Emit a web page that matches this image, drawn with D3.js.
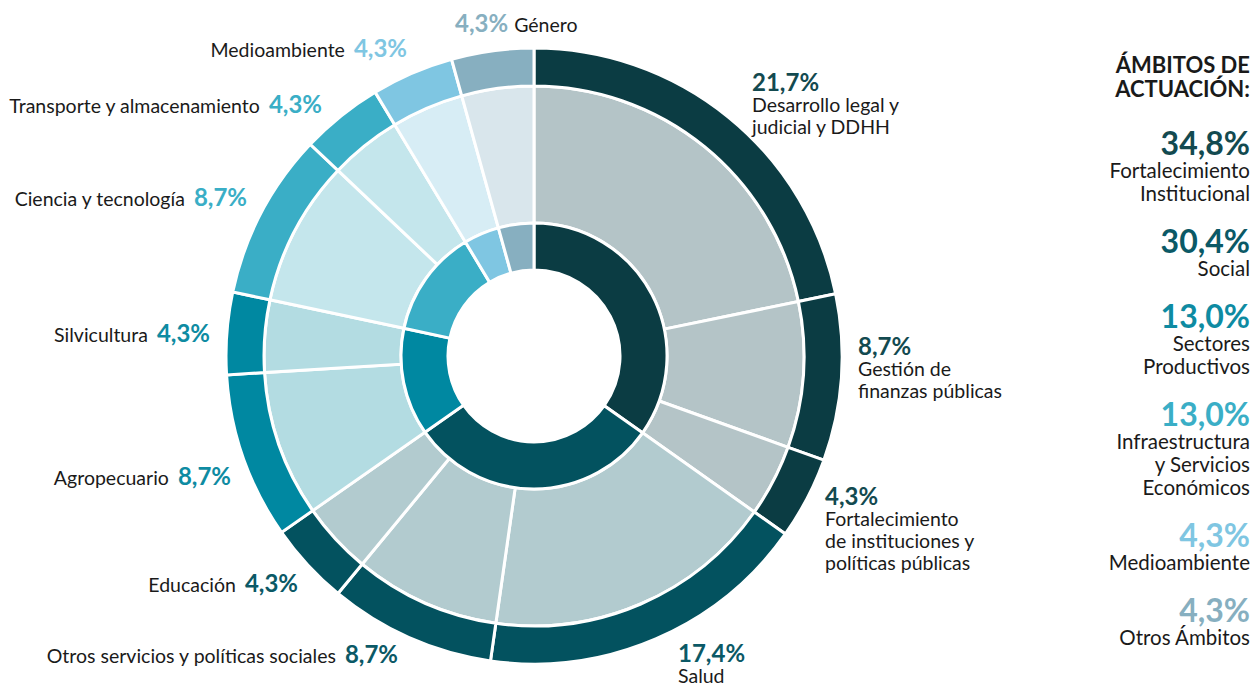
<!DOCTYPE html>
<html lang="es">
<head>
<meta charset="UTF-8">
<title>Ámbitos de actuación</title>
<script src="https://cdn.jsdelivr.net/npm/d3@7"></script>
<style>
    body { margin: 0; background: #fff; }
    svg text { font-family: Lato, "Open Sans", sans-serif; }
</style>
</head>
<body>
<div id="chart"></div>
<script>
    // -------- DATA ---------
    var groups = ["Fortalecimiento Institucional", "Social", "Sectores Productivos",
        "Infraestructura y Servicios Económicos", "Medioambiente", "Otros Ámbitos"];
    var groupValues = [34.8, 30.4, 13.0, 13.0, 4.3, 4.3];
    var groupLegendLines = [
        ["Fortalecimiento", "Institucional"],
        ["Social"],
        ["Sectores", "Productivos"],
        ["Infraestructura", "y Servicios", "Económicos"],
        ["Medioambiente"],
        ["Otros Ámbitos"]
    ];
    var subsectors = ["Desarrollo legal y judicial y DDHH", "Gestión de finanzas públicas",
        "Fortalecimiento de instituciones y políticas públicas", "Salud",
        "Otros servicios y políticas sociales", "Educación", "Agropecuario", "Silvicultura",
        "Ciencia y tecnología", "Transporte y almacenamiento", "Medioambiente", "Género"];
    var subsectorValues = [21.7, 8.7, 4.3, 17.4, 8.7, 4.3, 8.7, 4.3, 8.7, 4.3, 4.3, 4.3];
    var subsectorGroup = [0, 0, 0, 1, 1, 1, 2, 2, 3, 3, 4, 5];

    // -------- LAYOUT / STYLE ---------
    var W = 1255, H = 686;
    var cx = 534, cy = 356;
    var rHole = 86, rInner = 133, rMiddle = 270, rOuter = 308;
    var strongColors = ["#0b3c43", "#03525f", "#0088a1", "#3aaec6", "#7fc6e2", "#87afc0"];
    var paleColors = ["#b4c4c7", "#b2cbcf", "#b3dce2", "#c4e6ec", "#d7edf5", "#d9e6ec"];
    var pctTextColors = ["#134a50", "#0b5966", "#0e8ba2", "#3aaec6", "#7fc6e2", "#87afc0"];
    var labelSize = "19.5px", pctSize = "24px";

    // label anchors for each subsector (annotation placement)
    var labelLayout = [
        {x: 752, y: 91, side: "right", lines: ["Desarrollo legal y", "judicial y DDHH"]},
        {x: 858, y: 355, side: "right", lines: ["Gestión de", "finanzas públicas"]},
        {x: 825, y: 505, side: "right", lines: ["Fortalecimiento", "de instituciones y", "políticas públicas"]},
        {x: 678, y: 662, side: "right", lines: ["Salud"]},
        {x: 398, y: 663, side: "left"},
        {x: 298, y: 592, side: "left"},
        {x: 231, y: 485, side: "left"},
        {x: 210, y: 342, side: "left"},
        {x: 247, y: 206, side: "left"},
        {x: 322, y: 113, side: "left"},
        {x: 407, y: 57, side: "left"},
        {x: 455, y: 32, side: "top"}
    ];

    var fmt = function (v) { return d3.format(".1f")(v).replace(".", ",") + "%"; };

    var svg = d3.select("#chart")
        .append("svg")
        .attr("width", W)
        .attr("height", H);

    var g = svg.append("g")
        .attr("transform", "translate(" + cx + "," + cy + ")");

    // -------- RINGS ---------
    var pie = d3.pie().sort(null).value(function (d) { return d; });
    var leafArcs = pie(subsectorValues);

    // inner ring spans the same angles as its subsectors
    var innerArcs = groups.map(function (name, gi) {
        var own = leafArcs.filter(function (a, i) { return subsectorGroup[i] === gi; });
        return {
            startAngle: own[0].startAngle,
            endAngle: own[own.length - 1].endAngle,
            group: gi
        };
    });

    var arcInner = d3.arc().innerRadius(rHole).outerRadius(rInner);
    var arcMiddle = d3.arc().innerRadius(rInner).outerRadius(rMiddle);
    var arcOuter = d3.arc().innerRadius(rMiddle).outerRadius(rOuter);

    g.append("g").selectAll("path")
        .data(leafArcs)
        .enter()
        .append("path")
        .attr("d", arcMiddle)
        .attr("fill", function (d, i) { return paleColors[subsectorGroup[i]]; })
        .attr("stroke", "#fff")
        .attr("stroke-width", 3);

    g.append("g").selectAll("path")
        .data(leafArcs)
        .enter()
        .append("path")
        .attr("d", arcOuter)
        .attr("fill", function (d, i) { return strongColors[subsectorGroup[i]]; })
        .attr("stroke", "#fff")
        .attr("stroke-width", 3);

    g.append("g").selectAll("path")
        .data(innerArcs)
        .enter()
        .append("path")
        .attr("d", arcInner)
        .attr("fill", function (d) { return strongColors[d.group]; })
        .attr("stroke", "#fff")
        .attr("stroke-width", 3);

    // -------- SUBSECTOR LABELS ---------
    var labels = svg.append("g");
    subsectors.forEach(function (name, i) {
        var L = labelLayout[i];
        var col = pctTextColors[subsectorGroup[i]];
        if (L.side === "right") {
            var t = labels.append("text")
                .attr("x", L.x)
                .attr("y", L.y);
            t.append("tspan")
                .attr("x", L.x)
                .attr("font-size", pctSize)
                .attr("font-weight", 700)
                .attr("fill", col)
                .text(fmt(subsectorValues[i]));
            L.lines.forEach(function (line, k) {
                t.append("tspan")
                    .attr("x", L.x)
                    .attr("dy", k === 0 ? 21 : 22)
                    .attr("font-size", labelSize)
                    .attr("fill", "#1a1a1a")
                    .text(line);
            });
        } else if (L.side === "left") {
            var t2 = labels.append("text")
                .attr("x", L.x)
                .attr("y", L.y)
                .attr("text-anchor", "end");
            t2.append("tspan")
                .attr("font-size", labelSize)
                .attr("fill", "#1a1a1a")
                .text(name);
            t2.append("tspan")
                .attr("dx", 9)
                .attr("font-size", pctSize)
                .attr("font-weight", 700)
                .attr("fill", col)
                .text(fmt(subsectorValues[i]));
        } else {
            var t3 = labels.append("text")
                .attr("x", L.x)
                .attr("y", L.y);
            t3.append("tspan")
                .attr("font-size", pctSize)
                .attr("font-weight", 700)
                .attr("fill", col)
                .text(fmt(subsectorValues[i]));
            t3.append("tspan")
                .attr("dx", 6)
                .attr("font-size", labelSize)
                .attr("fill", "#1a1a1a")
                .text(name);
        }
    });

    // -------- LEGEND ---------
    var lx = 1250;
    var legend = svg.append("g")
        .attr("text-anchor", "end");
    legend.append("text")
        .attr("x", lx).attr("y", 73)
        .attr("font-size", "22px").attr("font-weight", 700).attr("fill", "#1a1a1a")
        .text("ÁMBITOS DE");
    legend.append("text")
        .attr("x", lx).attr("y", 97)
        .attr("font-size", "22px").attr("font-weight", 700).attr("fill", "#1a1a1a")
        .text("ACTUACIÓN:");

    var ly = 155;
    groups.forEach(function (name, gi) {
        legend.append("text")
            .attr("x", lx).attr("y", ly)
            .attr("font-size", "32px").attr("font-weight", 700)
            .attr("fill", pctTextColors[gi])
            .text(fmt(groupValues[gi]));
        groupLegendLines[gi].forEach(function (line) {
            ly += 23;
            legend.append("text")
                .attr("x", lx).attr("y", ly)
                .attr("font-size", "20.5px")
                .attr("fill", "#1a1a1a")
                .text(line);
        });
        ly += 52;
    });
</script>
</body>
</html>
